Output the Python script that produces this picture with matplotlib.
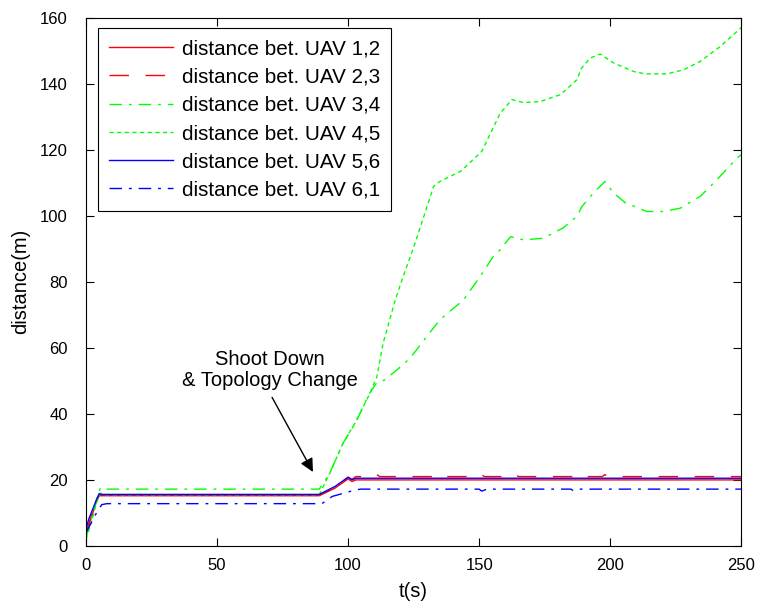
import numpy as np
import matplotlib
matplotlib.use('Agg')
import matplotlib.pyplot as plt

matplotlib.rcParams['font.family'] = 'Liberation Sans'
matplotlib.rcParams['font.size'] = 12

# ---- data (t in s, distance in m) ----
t_12 = [0, 1, 2, 3, 4, 5, 6, 50, 89, 95, 100, 101.5, 103, 250]
d_12 = [3.5, 6, 8.5, 11, 13.5, 15.2, 15.2, 15.2, 15.2, 17.5, 20.3, 19.5, 20.0, 20.0]

t_23 = [0, 1, 2, 3, 4, 5, 6, 50, 89, 95, 100, 101.5, 103, 110, 111, 112,
        133, 134, 135, 150, 151, 152, 163, 164, 165, 186, 187, 188, 197, 198, 199, 250]
d_23 = [4, 6.5, 9, 11.5, 14, 15.4, 15.4, 15.4, 15.4, 17.8, 20.8, 20.2, 21.0, 21.0, 21.6, 21.0,
        21.0, 21.6, 21.0, 21.0, 21.6, 21.0, 21.0, 21.6, 21.0, 21.0, 21.6, 21.0, 21.0, 21.6, 21.0, 21.0]

t_34 = [0, 2, 4, 5.5, 7, 50, 89, 93, 98, 103, 108, 111, 114, 118.6, 123.7, 130, 135, 144,
        150.4, 155.4, 158, 162, 167, 174.5, 182, 187.3, 189.2, 193.6, 198, 201.3, 205.7,
        214, 220.3, 226.7, 234.4, 240.7, 248.4, 250]
d_34 = [2.5, 8, 14, 17.6, 17.2, 17.2, 17.2, 22, 31, 37.5, 46, 49.5, 50.3, 53.3, 56.9, 63.4, 68.5, 74.5,
        81.6, 87.7, 89.7, 93.7, 92.7, 93.2, 96.3, 99.8, 102.8, 106.9, 110.4, 106.9, 104,
        101.3, 101.3, 102.3, 105.9, 110.9, 117.5, 118.5]

t_45 = [0, 2, 4, 5.5, 7, 50, 89, 93, 98, 102.7, 108.4, 111, 113.4, 118, 121, 125.6, 129.4,
        132.6, 135, 143, 151, 158, 162.5, 166.9, 173.3, 181, 187.3, 189, 192.4, 196.2,
        201.3, 209, 213.4, 221.6, 227.9, 234.4, 242, 250]
d_45 = [2, 7, 13, 16, 15.5, 15.5, 15.5, 22, 31, 37.3, 46.3, 51.3, 61.5, 74.5, 81.6, 91.8, 101,
        108.9, 110.4, 113.5, 119.5, 131, 135.2, 134.3, 134.6, 136.7, 141.2, 144.7, 147.8, 149,
        146.3, 143.7, 143, 143, 144.2, 146.8, 151.3, 157]

t_56 = [0, 1, 2, 3, 4, 5, 6, 50, 89, 95, 100, 101.5, 103, 250]
d_56 = [5, 8, 10, 12, 14, 15.8, 15.6, 15.6, 15.6, 18, 20.8, 20.0, 20.5, 20.5]

t_61 = [0, 2, 4, 6, 8, 50, 90, 94, 103, 105, 150, 151, 153, 185, 186, 188, 250]
d_61 = [4, 7, 10, 12.5, 12.8, 12.8, 12.8, 15, 17, 17.2, 17.2, 16.6, 17.2, 17.2, 16.7, 17.2, 17.2]

labels = ['distance bet. UAV 1,2', 'distance bet. UAV 2,3', 'distance bet. UAV 3,4',
          'distance bet. UAV 4,5', 'distance bet. UAV 5,6', 'distance bet. UAV 6,1']

fig = plt.figure(figsize=(7.61, 6.12), dpi=100)
ax = fig.add_axes([0.113, 0.108, 0.861, 0.863])

lw = 1.0
ax.plot(t_12, d_12, '-', color='#ff0000', lw=lw, label=labels[0])
ax.plot(t_23, d_23, color='#ff0000', lw=lw, dashes=(14, 12), label=labels[1])
ax.plot(t_34, d_34, color='#00ff00', lw=lw, dashes=(9, 5, 2, 5), label=labels[2])
ax.plot(t_45, d_45, color='#00ff00', lw=lw, dashes=(3, 2.5), label=labels[3])
ax.plot(t_56, d_56, '-', color='#0000ff', lw=lw, label=labels[4])
ax.plot(t_61, d_61, color='#0000ff', lw=lw, dashes=(9, 5, 2, 5), label=labels[5])

# annotation: text and arrow
ax.text(70.2, 53.3, 'Shoot Down\n& Topology Change', ha='center', va='center',
        fontsize=14.5, linespacing=1.15)
ax.annotate('', xy=(86.6, 22.4), xytext=(71.0, 45.0),
            arrowprops=dict(arrowstyle='-|>', color='k', lw=1, mutation_scale=20,
                            shrinkA=0, shrinkB=0))

ax.set_xlim(0, 250)
ax.set_ylim(0, 160)
ax.set_xticks([0, 50, 100, 150, 200, 250])
ax.set_yticks(np.arange(0, 161, 20))
ax.tick_params(direction='in', top=True, right=True, length=5.5, width=0.8)
ax.tick_params(axis='x', pad=8.5)
ax.tick_params(axis='y', pad=13)
for s in ax.spines.values():
    s.set_linewidth(0.8)

ax.set_xlabel('t(s)', fontsize=14.5, labelpad=7)
ax.set_ylabel('distance(m)', fontsize=14.5, labelpad=7)

leg = ax.legend(loc='upper left', bbox_to_anchor=(0.018, 0.981), borderaxespad=0,
                fancybox=False, edgecolor='black', framealpha=1, fontsize=14.9,
                handlelength=3.1, labelspacing=0.45, borderpad=0.55, handletextpad=0.4)
leg.get_frame().set_linewidth(0.8)

plt.savefig('out.png', dpi=100)
plt.close()
